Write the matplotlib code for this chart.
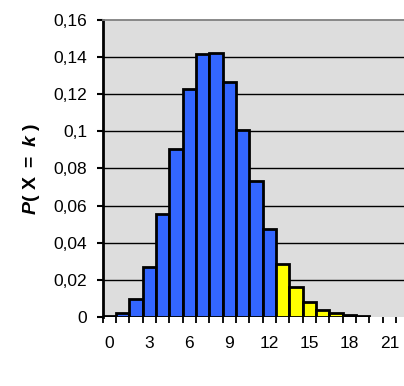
import numpy as np
import matplotlib
matplotlib.use('Agg')
import matplotlib.pyplot as plt

# values
k_values = list(range(20))
probabilities = [0.0007, 0.0023, 0.0099, 0.0271, 0.0556, 0.0907, 0.1230, 0.1418,
                 0.1424, 0.1268, 0.1007, 0.0731, 0.0474, 0.0287, 0.0162, 0.0081,
                 0.0039, 0.0019, 0.0008, 0.0003]
tail_start = 13
x_tick_values = [0, 3, 6, 9, 12, 15, 18, 21]
y_tick_values = [0, 0.02, 0.04, 0.06, 0.08, 0.10, 0.12, 0.14, 0.16]
y_tick_labels = ["0", "0,02", "0,04", "0,06", "0,08", "0,1", "0,12", "0,14", "0,16"]

plt.rcParams['font.family'] = ['Liberation Sans', 'DejaVu Sans']
plt.rcParams['mathtext.fontset'] = 'custom'
plt.rcParams['mathtext.rm'] = 'Liberation Sans:bold'
plt.rcParams['mathtext.bf'] = 'Liberation Sans:bold'
plt.rcParams['mathtext.it'] = 'Liberation Sans:italic:bold'

fig = plt.figure(figsize=(4.04, 3.86), dpi=100)
ax = fig.add_axes([0.254, 0.179, 0.746, 0.769])
ax.set_facecolor("#DDDDDD")

colors = ["#FFFF00" if k >= tail_start else "#3366FF" for k in k_values]
ax.bar(k_values, probabilities, width=1.0, color=colors,
       edgecolor="black", linewidth=2.0, zorder=3)

ax.set_xlim(-0.5, 22.1)
ax.set_ylim(0, 0.16)

# horizontal grid
for yv in y_tick_values[1:-1]:
    ax.axhline(yv, color="black", lw=1.0, zorder=1)

# x ticks at category boundaries, labels at centres
ax.set_xticks(np.arange(-0.5, 22, 1.0))
ax.set_xticklabels([])
ax.set_xticks(x_tick_values, minor=True)
ax.set_xticklabels([str(v) for v in x_tick_values], minor=True, fontsize=12.5)
ax.tick_params(axis='x', which='major', direction='out', length=4.5, width=1.3, color='black')
ax.tick_params(axis='x', which='minor', length=0, pad=14)

ax.set_yticks(y_tick_values)
ax.set_yticklabels(y_tick_labels, fontsize=12.5)
ax.tick_params(axis='y', direction='out', length=4.0, width=1.5, pad=7)

ax.set_ylabel(r"$\mathit{P}\mathrm{(\ X\ =\ }\mathit{k}\mathrm{\ )}$", fontsize=14, labelpad=8)

ax.spines['left'].set_linewidth(2.0)
ax.spines['left'].set_color('black')
ax.spines['bottom'].set_visible(False)
ax.spines['right'].set_visible(False)
ax.spines['top'].set_color('#808080')
ax.spines['top'].set_linewidth(1.3)

plt.savefig("out.png", dpi=100)
